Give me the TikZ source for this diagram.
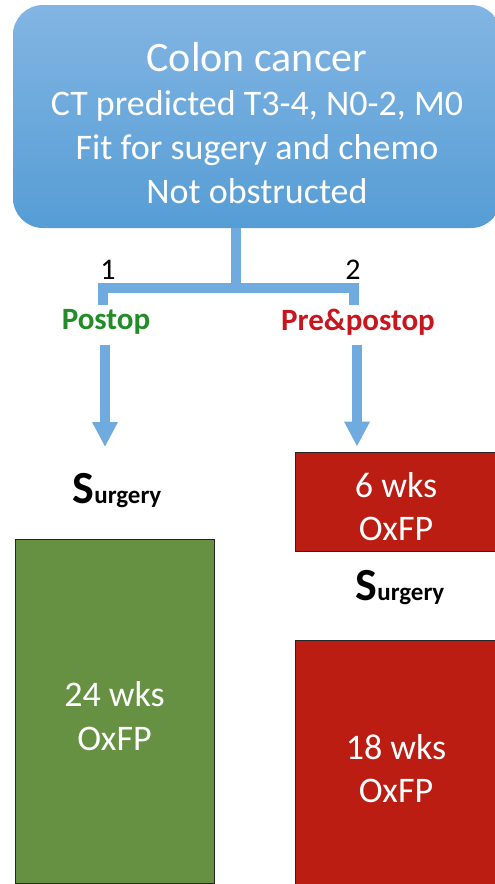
\documentclass[tikz,border=0pt]{standalone}
\usepackage{fontspec}
\setmainfont{Carlito}
\usetikzlibrary{arrows.meta}
\definecolor{boxtop}{RGB}{130,181,227}
\definecolor{boxbot}{RGB}{86,157,213}
\definecolor{conn}{RGB}{111,171,222}
\definecolor{gfill}{RGB}{102,145,67}
\definecolor{rfill}{RGB}{187,29,19}
\definecolor{glabel}{RGB}{34,140,40}
\definecolor{rlabel}{RGB}{200,22,30}
\begin{document}
\begin{tikzpicture}[x=1pt,y=-1pt,
  boxtext/.style={text=white, font=\fontsize{36}{43.5}\selectfont, align=center},
  armbox/.style={draw=black!85, line width=0.8pt, inner sep=0pt, boxtext},
  conline/.style={draw=conn, line width=10pt, line join=miter},
  arrowline/.style={conline, -{Triangle[width=24pt,length=25pt]}},
  armlabel/.style={font=\fontsize{31}{36}\selectfont\bfseries},
  numlabel/.style={font=\fontsize{30}{36}\selectfont},
  surg/.style={anchor=base, inner sep=0pt},
]
\useasboundingbox (0,0) rectangle (495,884);

% top box
\node[top color=boxtop, bottom color=boxbot, rounded corners=30pt,
      minimum width=488pt, minimum height=223pt, inner sep=0pt,
      text=white, align=center, font=\fontsize{36}{44}\selectfont]
  (top) at (257,116.5)
  {\rule{0pt}{42pt}{\fontsize{42}{44}\selectfont Colon cancer}\\
   CT predicted T3-4, N0-2, M0\\
   Fit for sugery and chemo\\
   Not obstructed};

% split connector
\coordinate (split) at (235.5,288);
\coordinate (lbar) at (103,288);
\coordinate (rbar) at (354,288);
\coordinate (lstub) at (103,305);
\coordinate (rstub) at (354,305);
\draw[conline] (top.south -| split) -- (split);
\draw[conline] (lstub) -- (lbar) -- (rbar) -- (rstub);

% labels
\node[numlabel] (n1) at (108,270) {1};
\node[numlabel] (n2) at (353,270) {2};
\node[armlabel, text=glabel] (arm1) at (106,322) {Postop};
\node[armlabel, text=rlabel] (arm2) at (358,322) {Pre\&postop};

% arrows
\coordinate (a1s) at (105,345);
\coordinate (a1e) at (105,447);
\coordinate (a2s) at (357,345);
\draw[arrowline] (a1s) -- (a1e);

% boxes
\node[armbox, fill=rfill, minimum width=202pt, minimum height=99pt]
  (pre) at (396,501.5) {\rule{0pt}{35pt}6 wks\\OxFP};
\draw[arrowline, shorten >=5pt] (a2s) -- (pre.north -| a2s);

\node[armbox, fill=gfill, minimum width=199pt, minimum height=344pt]
  (post1) at (114.5,711) {\rule{0pt}{35pt}24 wks\\OxFP};
\node[armbox, fill=rfill, minimum width=202pt, minimum height=250pt]
  (post2) at (396,765) {\rule{0pt}{32pt}18 wks\\OxFP};

% surgery labels
\node[surg] (s1) at (117,503) {\bfseries\fontsize{46}{50}\selectfont S\fontsize{25}{30}\selectfont urgery};
\node[surg] (s2) at (400,600) {\bfseries\fontsize{46}{50}\selectfont S\fontsize{25}{30}\selectfont urgery};
\end{tikzpicture}
\end{document}
